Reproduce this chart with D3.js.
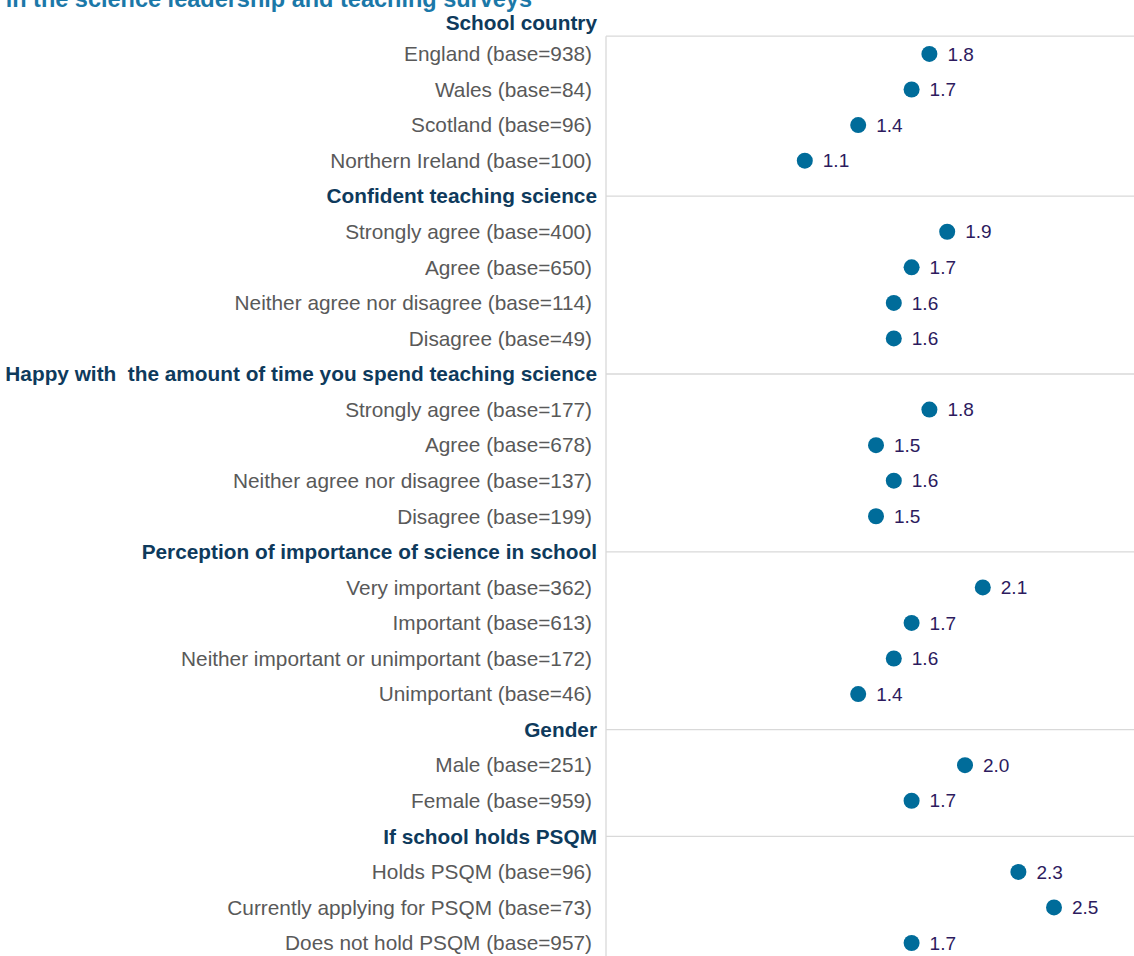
<!DOCTYPE html>
<html><head><meta charset="utf-8">
<script src="https://cdn.jsdelivr.net/npm/d3@7"></script>
<style>body{margin:0;background:#fff;overflow:hidden}text{font-family:Arial,"Liberation Sans",sans-serif;white-space:pre}</style>
</head><body>
<svg id="c" width="1134" height="956"></svg>
<script>
const titleText = "in the science leadership and teaching surveys";
const groupNames = ["School country","Confident teaching science","Happy with  the amount of time you spend teaching science","Perception of importance of science in school","Gender","If school holds PSQM"];
const categories = [
  ["England (base=938)","Wales (base=84)","Scotland (base=96)","Northern Ireland (base=100)"],
  ["Strongly agree (base=400)","Agree (base=650)","Neither agree nor disagree (base=114)","Disagree (base=49)"],
  ["Strongly agree (base=177)","Agree (base=678)","Neither agree nor disagree (base=137)","Disagree (base=199)"],
  ["Very important (base=362)","Important (base=613)","Neither important or unimportant (base=172)","Unimportant (base=46)"],
  ["Male (base=251)","Female (base=959)"],
  ["Holds PSQM (base=96)","Currently applying for PSQM (base=73)","Does not hold PSQM (base=957)"]
];
const values = [
  [1.8,1.7,1.4,1.1],
  [1.9,1.7,1.6,1.6],
  [1.8,1.5,1.6,1.5],
  [2.1,1.7,1.6,1.4],
  [2.0,1.7],
  [2.3,2.5,1.7]
];
const xTicks = [0,1,2,3];

const rows = [];
groupNames.forEach((g,gi)=>{
  rows.push({key:"h"+gi,label:g,header:true,first:gi===0});
  categories[gi].forEach((c,ci)=>rows.push({key:gi+"_"+ci,label:c,header:false,value:values[gi][ci]}));
});

const svg = d3.select("#c");
const axisX = 606;
const x = d3.scaleLinear().domain([0,3]).range([609,1143]);
const y = d3.scalePoint().domain(rows.map(r=>r.key)).range([18.4,943]);
const step = y.step();

// title (cut off at top)
svg.append("text").attr("x",532).attr("y",7).attr("text-anchor","end")
  .attr("font-size",23.5).attr("font-weight","bold").attr("fill","#1b78a8").text(titleText);

// gridlines at headers
const hdr = rows.filter(r=>r.header);
const topY = y(rows[1].key)-step/2;
svg.selectAll("line.grid").data(hdr).join("line").attr("class","grid")
  .attr("x1",axisX).attr("x2",1134)
  .attr("y1",(d,i)=> i===0 ? topY : y(d.key))
  .attr("y2",(d,i)=> i===0 ? topY : y(d.key))
  .attr("stroke","#d9d9d9").attr("stroke-width",1.3);
svg.append("line").attr("x1",axisX).attr("x2",axisX).attr("y1",topY).attr("y2",956)
  .attr("stroke","#d9d9d9").attr("stroke-width",1.3);

// labels
svg.selectAll("text.lab").data(rows).join("text").attr("class","lab")
  .attr("x",d=>d.header?597:592).attr("y",d=>y(d.key)+(d.first?4:0)).attr("dy","0.35em")
  .attr("text-anchor","end")
  .attr("font-size",d=>d.header?20.8:20.8)
  .attr("font-weight",d=>d.header?"bold":"normal")
  .attr("fill",d=>d.header?"#0e3a5c":"#595959")
  .text(d=>d.label);

const pts = rows.filter(r=>!r.header);
svg.selectAll("circle.dot").data(pts).join("circle").attr("class","dot")
  .attr("cx",d=>x(d.value)).attr("cy",d=>y(d.key)).attr("r",8).attr("fill","#006c9a");
svg.selectAll("text.val").data(pts).join("text").attr("class","val")
  .attr("x",d=>x(d.value)+18).attr("y",d=>y(d.key)).attr("dy","0.35em")
  .attr("font-size",19).attr("fill","#2d1b5e").text(d=>d3.format(".1f")(d.value));
</script>
</body></html>
